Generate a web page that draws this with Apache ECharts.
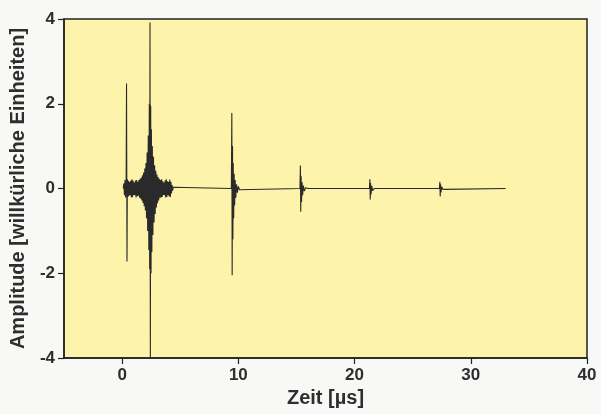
<!DOCTYPE html>
<html><head><meta charset="utf-8">
<script src="https://cdn.jsdelivr.net/npm/echarts@6/dist/echarts.min.js"></script>
<style>html,body{margin:0;padding:0;background:#f8f8f6;}#c{width:601px;height:414px;}</style>
</head><body><div id="c"></div>
<script>
const timeUs = [
  0.10,0.15,0.20,0.25,0.30,0.35,0.38,0.42,0.45,0.50,0.55,0.60,0.65,0.70,0.75,0.80,0.85,0.90,0.95,1.00,
  1.05,1.10,1.15,1.20,1.25,1.30,1.35,1.40,1.45,1.50,1.55,1.60,1.65,1.70,1.75,1.80,1.85,1.90,1.95,2.00,
  2.05,2.10,2.15,2.20,2.25,2.30,2.34,2.37,2.40,2.43,2.46,2.49,2.52,2.56,2.60,2.65,2.70,2.75,2.80,2.85,
  2.90,2.95,3.00,3.05,3.10,3.15,3.20,3.25,3.30,3.35,3.40,3.45,3.50,3.55,3.60,3.65,3.70,3.75,3.80,3.85,
  3.90,3.95,4.00,4.05,4.10,4.15,4.20,4.25,4.30,4.35,4.40,4.50,
  9.40,9.44,9.47,9.50,9.53,9.56,9.60,9.64,9.68,9.73,9.78,9.85,9.92,10.00,10.10,10.25,
  15.30,15.34,15.37,15.40,15.44,15.48,15.53,15.60,15.68,15.80,16.00,
  21.28,21.32,21.35,21.38,21.42,21.48,21.56,21.70,
  27.30,27.34,27.37,27.40,27.44,27.50,27.60,27.75,
  33.00
];
const amplitude = [
  0.00,0.12,-0.16,0.20,-0.21,0.19,2.48,-1.72,0.22,-0.20,0.18,-0.17,0.15,-0.16,0.19,-0.21,0.22,-0.20,0.18,-0.15,
  0.14,-0.16,0.19,-0.21,0.20,-0.18,0.16,-0.17,0.20,-0.22,0.23,-0.24,0.26,-0.28,0.31,-0.34,0.38,-0.42,0.47,-0.52,
  0.60,-0.70,0.85,-1.00,1.25,-1.45,2.00,-1.90,3.92,-4.00,1.95,-2.00,1.40,-1.50,1.00,-1.10,0.75,-0.80,0.55,-0.60,
  0.42,-0.45,0.33,-0.35,0.27,-0.28,0.23,-0.22,0.20,-0.21,0.22,-0.20,0.17,-0.15,0.14,-0.16,0.19,-0.21,0.22,-0.20,
  0.17,-0.15,0.16,-0.19,0.21,-0.20,0.16,-0.12,0.08,-0.05,0.03,0.00,
  0.00,1.78,-2.05,1.00,-1.20,0.60,-0.70,0.35,-0.40,0.20,-0.22,0.10,-0.10,0.05,-0.03,0.00,
  0.00,0.54,-0.55,0.30,-0.32,0.15,-0.16,0.07,-0.06,0.02,0.00,
  0.00,0.22,-0.26,0.13,-0.14,0.06,-0.05,0.00,
  0.00,0.16,-0.19,0.10,-0.09,0.04,-0.02,0.00,
  0.00
];
const xTicks = [0, 10, 20, 30, 40];
const yTicks = [-4, -2, 0, 2, 4];
const xTitle = 'Zeit [µs]';
const yTitle = 'Amplitude [willkürliche Einheiten]';

const pairs = timeUs.map((t, i) => [t, amplitude[i]]);
const font = '"Liberation Sans", Arial, sans-serif';
const textColor = '#2e2e2e';

const chart = echarts.init(document.getElementById('c'), null, {renderer: 'canvas'});
chart.setOption({
  animation: false,
  backgroundColor: '#f8f8f6',
  grid: {left: 64, right: 14, top: 19, bottom: 56, show: true,
         backgroundColor: '#fdf3aa', borderColor: '#222', borderWidth: 1.5},
  xAxis: {
    type: 'value', min: -5, max: 40,
    name: xTitle, nameLocation: 'middle', nameGap: 29,
    nameTextStyle: {fontFamily: font, fontWeight: 'bold', fontSize: 20, color: textColor},
    axisLine: {show: true, onZero: false, lineStyle: {color: '#222', width: 1.5}},
    axisTick: {show: true, customValues: xTicks, length: 6, lineStyle: {color: '#222', width: 1.2}},
    axisLabel: {customValues: xTicks, margin: 9, fontFamily: font, fontWeight: 'bold', fontSize: 17, color: textColor},
    splitLine: {show: false}
  },
  yAxis: {
    type: 'value', min: -4, max: 4, interval: 2,
    name: yTitle, nameLocation: 'middle', nameRotate: 90, nameGap: 30,
    nameTextStyle: {fontFamily: font, fontWeight: 'bold', fontSize: 20, color: textColor},
    axisLine: {show: true, onZero: false, lineStyle: {color: '#222', width: 1.5}},
    axisTick: {show: true, length: 6, lineStyle: {color: '#222', width: 1.2}},
    axisLabel: {customValues: yTicks, margin: 9, fontFamily: font, fontWeight: 'bold', fontSize: 17, color: textColor},
    splitLine: {show: false}
  },
  series: [{
    type: 'line', data: pairs, showSymbol: false, symbol: 'none',
    lineStyle: {color: '#2a2a2a', width: 1.1}, clip: true
  }]
});
</script></body></html>
